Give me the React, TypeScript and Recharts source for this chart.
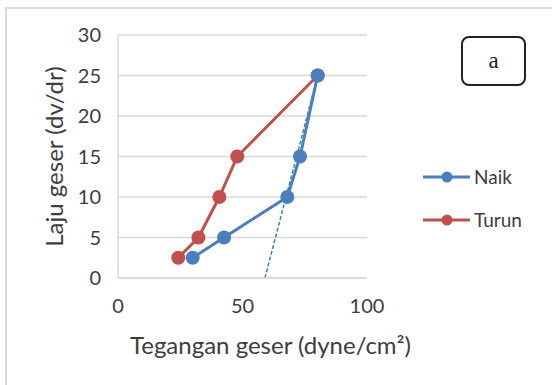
import { ScatterChart, Scatter, XAxis, YAxis, CartesianGrid, ReferenceLine, Label } from 'recharts'

const naikX = [30, 42.6, 68, 73.1, 80.2]
const naikY = [2.5, 5, 10, 15, 25]
const turunX = [24.2, 32.3, 40.7, 47.9, 80.2]
const turunY = [2.5, 5, 10, 15, 25]
const trendX = [59, 80.2]
const trendY = [0, 25]
const xTicks = [0, 50, 100]
const yTicks = [0, 5, 10, 15, 20, 25, 30]

const naik = naikX.map((x, i) => ({ x, y: naikY[i] }))
const turun = turunX.map((x, i) => ({ x, y: turunY[i] }))
const trend = trendX.map((x, i) => ({ x, y: trendY[i] }))

const BLUE = '#4a7ebf'
const RED = '#c0504d'
const TEXT = '#3d3d3d'
const GRID = '#d9d9d9'
const FONT = 'Lato, "Open Sans", sans-serif'

const dot = (color: string) => (props: any) => (
  <circle cx={props.cx} cy={props.cy} r={7} fill={color} />
)

function LegendBox() {
  const items = [
    { name: 'Naik', color: BLUE },
    { name: 'Turun', color: RED },
  ]
  return (
    <svg width={120} height={70}>
      {items.map((it, i) => (
        <g key={it.name} transform={`translate(0, ${12 + i * 43})`}>
          <line x1={0} x2={47} y1={0} y2={0} stroke={it.color} strokeWidth={3} />
          <circle cx={24} cy={0} r={5.5} fill={it.color} />
          <text x={51} y={0} dy='0.35em' fontSize={19} fill={TEXT} fontFamily={FONT}>
            {it.name}
          </text>
        </g>
      ))}
    </svg>
  )
}

function YTitle({ viewBox }: any) {
  const cx = 53
  const cy = viewBox.y + viewBox.height / 2
  return (
    <text x={cx} y={cy} transform={`rotate(-90 ${cx} ${cy})`} textAnchor='middle' dominantBaseline='central'
      fontSize={24} fill={TEXT} fontFamily={FONT}>
      Laju geser (dv/dr)
    </text>
  )
}

function XTitle({ viewBox }: any) {
  const x = viewBox.x + viewBox.width / 2 + 28
  return (
    <text x={x} y={344} textAnchor='middle' dominantBaseline='central' fontSize={24} fill={TEXT} fontFamily={FONT}>
      Tegangan geser (dyne/cm²)
    </text>
  )
}

export default function App() {
  return (
    <div style={{ position: 'absolute', left: 0, top: 0, width: 552, height: 385, background: '#fff', fontFamily: FONT }}>
      <div style={{ position: 'absolute', left: 5, top: 7, width: 547, height: 378, borderLeft: `2px solid ${GRID}`, borderTop: `2px solid ${GRID}` }} />
      <ScatterChart width={552} height={385} margin={{ top: 35, right: 185, bottom: 77, left: 58 }}>
        <CartesianGrid horizontal vertical={false} stroke={GRID} strokeWidth={1.5} />
        <XAxis type='number' dataKey='x' domain={[0, 100]} ticks={xTicks} tickLine={false} axisLine={{ stroke: GRID, strokeWidth: 1.5 }}
          height={30} tickMargin={15} tick={{ fill: TEXT, fontSize: 20, fontFamily: FONT }} interval={0}>
          <Label content={<XTitle />} />
        </XAxis>
        <YAxis type='number' dataKey='y' domain={[0, 30]} ticks={yTicks} width={60} tickLine={false}
          axisLine={{ stroke: GRID, strokeWidth: 1.5 }} tickMargin={11} tick={{ fill: TEXT, fontSize: 20, fontFamily: FONT }} interval={0}>
          <Label content={<YTitle />} />
        </YAxis>
        <ReferenceLine segment={trend} stroke={BLUE} strokeWidth={1.5} strokeDasharray='4 2' />
        <Scatter name='Turun' data={turun} fill={RED} line={{ stroke: RED, strokeWidth: 3 }} shape={dot(RED)} isAnimationActive={false} />
        <Scatter name='Naik' data={naik} fill={BLUE} line={{ stroke: BLUE, strokeWidth: 3 }} shape={dot(BLUE)} isAnimationActive={false} />
      </ScatterChart>
      <div style={{ position: 'absolute', left: 423, top: 165 }}>
        <LegendBox />
      </div>
      <div style={{ position: 'absolute', left: 461, top: 36, width: 61, height: 46, border: '2px solid #222', borderRadius: 8,
        display: 'flex', alignItems: 'center', justifyContent: 'center', fontFamily: '"Liberation Serif", serif', fontSize: 23, color: '#222' }}>
        a
      </div>
    </div>
  )
}
